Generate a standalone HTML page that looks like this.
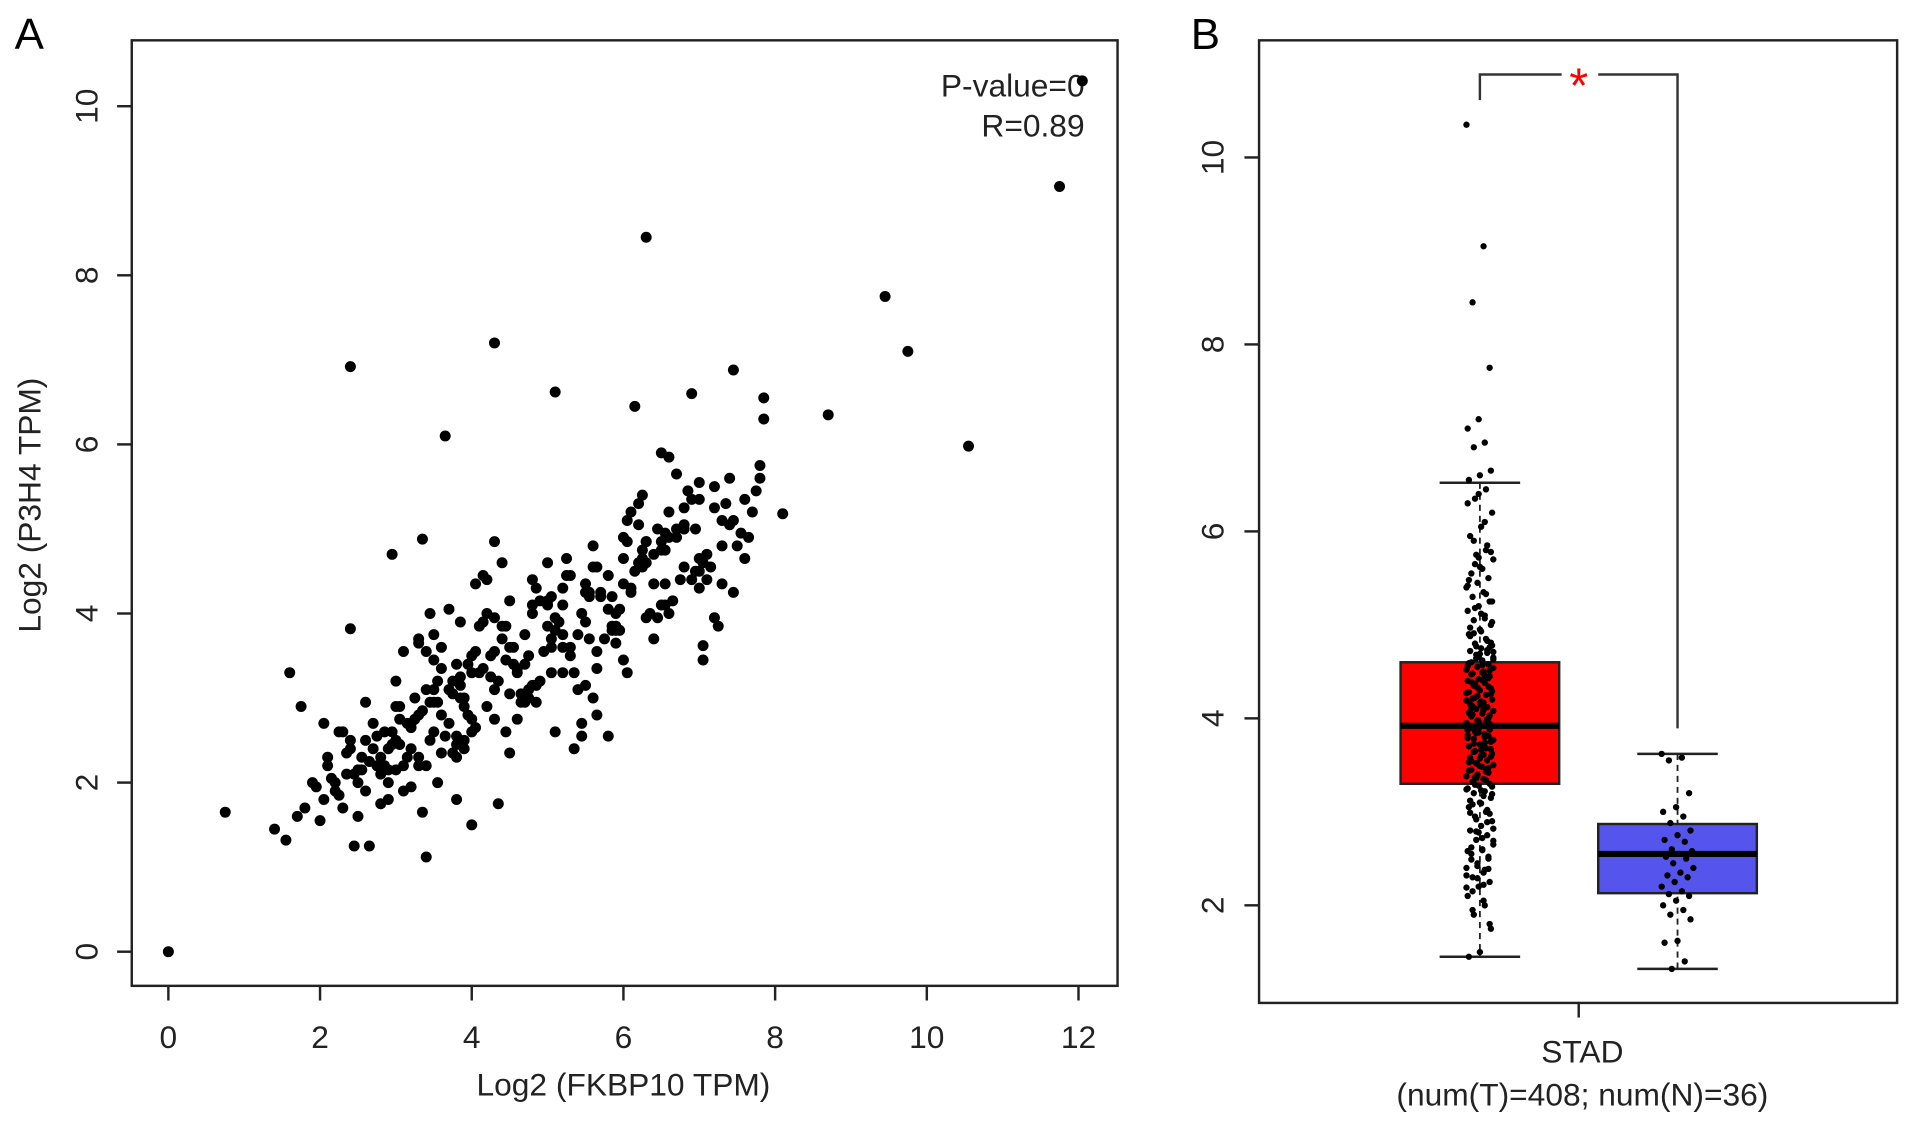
<!DOCTYPE html>
<html><head><meta charset="utf-8"><style>
html,body{margin:0;padding:0;background:#fff;}
svg{display:block;font-family:"Liberation Sans",Arial,sans-serif;}
</style></head><body>
<svg id="fig" width="1913" height="1125" viewBox="0 0 1568 922" xmlns="http://www.w3.org/2000/svg">
<g id="pa"></g>
<g id="pb"></g>
</svg>
<script>
// ---------- Panel A data ----------
const scatterX = [0,0.75,2.4,3.65,4.3,5.1,6.3,8.7,9.45,9.75,10.55,11.75,12.05,7.45,6.9,7.85,6.15,1.6,2.4,3.35,2.95,1.75,3.4,2.45,2.65,1.4,1.55,4.0,4.35,8.1,7.8,6.5,7.05,7.85,
1.7,1.8,1.9,2.0,2.05,2.1,2.2,2.25,2.3,2.35,2.5,2.55,2.6,2.7,2.75,2.8,2.85,2.9,3.0,3.05,3.1,3.15,3.2,3.25,3.3,3.35,3.45,3.5,3.55,3.6,3.7,3.75,3.8,3.85,3.9,3.95,
2.1,2.3,2.5,2.7,2.9,3.1,3.3,3.5,3.7,3.9,4.1,4.3,4.5,4.7,4.9,5.1,5.3,5.5,5.7,5.9,6.1,6.3,6.5,6.7,6.9,7.1,7.3,7.5,7.7,
1.95,2.15,2.35,2.55,2.75,2.95,3.15,3.35,3.55,3.75,3.95,4.15,4.35,4.55,4.75,4.95,5.15,5.35,5.55,5.75,5.95,6.15,6.35,6.55,6.75,6.95,7.15,7.35,7.55,7.75,
2.2,2.4,2.6,2.8,3.0,3.2,3.4,3.6,3.8,4.0,4.2,4.4,4.6,4.8,5.0,5.2,5.4,5.6,5.8,6.0,6.2,6.4,6.6,6.8,7.0,7.2,7.4,7.6,7.8,
2.05,2.45,2.85,3.25,3.65,4.05,4.45,4.85,5.25,5.65,6.05,6.45,6.85,7.25,7.65,
3.0,3.3,3.6,3.9,4.2,4.5,4.8,5.1,5.4,5.7,6.0,6.3,6.6,6.9,7.2,
2.6,2.9,3.2,3.5,3.8,4.1,4.4,4.7,5.0,5.3,5.6,5.9,6.2,6.5,6.8,7.1,7.4,
3.4,3.7,4.0,4.3,4.6,4.9,5.2,5.5,5.8,6.1,6.4,6.7,7.0,
4.05,4.25,4.45,4.65,4.85,5.05,5.25,5.45,5.65,5.85,6.05,6.25,6.45,
3.1,3.45,3.8,4.15,4.5,4.85,5.2,5.55,5.9,6.25,6.6,6.95,
3.85,4.15,4.45,4.75,5.05,5.35,5.65,5.95,6.25,6.55,
2.8,3.05,3.3,3.55,3.8,4.05,4.3,4.55,4.8,5.05,5.3,5.55,5.8,6.05,6.3,6.55,6.8,7.05,7.3,
2.25,2.65,3.05,3.45,3.85,4.25,4.65,5.05,5.45,5.85,6.25,6.65,7.05,7.45,
2.5,2.95,3.4,3.85,4.3,4.75,5.2,5.65,6.1,6.55,7.0,7.45,
3.2,3.6,4.0,4.4,4.8,5.2,5.6,6.0,6.4,6.8,7.2,7.6,
3.5,3.9,4.3,4.7,5.1,5.5,5.9,6.3,6.7,
2.4,2.9,3.3,3.75,4.2,4.6,5.0,5.45,5.85,6.2,6.6,7.0,7.3,
3.0,3.5,4.0,4.5,5.0,5.5,6.0,6.5,7.0];
const scatterY = [0,1.65,6.92,6.1,7.2,6.62,8.45,6.35,7.75,7.1,5.98,9.05,10.3,6.88,6.6,6.55,6.45,3.3,3.82,4.88,4.7,2.9,1.12,1.25,1.25,1.45,1.32,1.5,1.75,5.18,5.75,5.9,3.62,6.3,
1.6,1.7,2.0,1.55,1.8,2.2,1.9,2.6,1.7,2.1,1.6,2.3,1.9,2.4,2.2,1.75,2.6,2.0,2.5,2.9,1.9,2.7,2.4,3.0,2.3,1.65,2.5,3.1,2.0,3.6,2.7,3.2,1.8,3.9,2.5,3.4,
2.3,2.6,2.0,2.7,2.4,2.2,2.8,2.6,3.1,3.0,3.3,3.1,3.6,3.4,3.2,3.8,3.5,3.9,4.2,3.8,4.3,4.6,4.1,4.9,4.4,4.7,5.1,4.8,5.2,
1.95,2.05,2.35,2.15,2.55,2.6,2.3,2.85,2.95,3.05,2.8,3.35,3.2,3.6,3.0,3.55,3.9,3.3,4.2,3.7,4.05,4.5,4.0,4.75,4.4,5.0,4.55,5.3,4.95,5.45,
2.0,2.4,2.5,2.3,2.9,2.65,3.1,2.8,3.4,3.3,2.9,3.7,3.35,4.1,3.85,4.3,3.75,4.55,4.05,4.9,4.6,4.35,5.2,5.0,4.65,5.5,5.05,5.35,5.6,
2.7,2.1,2.2,2.75,2.55,3.55,3.45,3.15,4.45,2.8,5.1,3.95,5.45,3.85,4.9,
3.2,3.7,3.35,2.9,4.4,3.05,4.0,2.6,3.1,4.25,3.45,4.85,4.0,5.35,3.95,
2.95,2.15,2.7,3.75,2.3,3.85,4.6,2.95,4.6,3.6,4.8,4.0,5.05,4.75,5.05,4.4,5.6,
3.55,4.05,2.75,3.95,3.3,4.15,3.6,4.35,2.55,5.2,4.7,5.65,4.3,
4.35,3.25,3.85,2.95,4.3,3.3,4.65,2.55,4.55,3.85,4.85,5.4,5.0,
3.55,4.0,2.55,4.45,2.35,2.95,3.3,4.25,3.65,4.75,5.85,4.5,
3.15,3.9,2.6,3.1,4.2,2.4,3.55,3.8,4.55,4.35,
2.1,2.75,3.65,3.2,2.45,2.65,4.85,3.4,4.4,3.7,4.45,3.7,4.45,3.3,3.95,4.95,5.25,3.45,4.8,
1.85,2.25,2.45,2.95,3.25,3.5,3.05,3.6,4.0,4.2,4.65,4.15,4.6,5.1,
2.15,2.45,2.2,3.0,2.75,3.5,3.75,3.35,4.25,4.1,4.5,4.25,
1.95,2.35,2.6,3.85,3.15,4.1,3.0,4.35,3.7,4.55,5.25,4.65,
3.45,2.4,3.55,3.75,3.95,3.15,3.85,4.85,5.0,
2.5,1.8,2.2,2.35,4.0,2.75,4.1,2.7,3.8,5.3,4.9,5.55,4.35,
2.15,2.95,3.5,4.15,4.15,4.25,4.65,4.85,5.35];
const xTicksA = [0,2,4,6,8,10,12];
const yTicksA = [0,2,4,6,8,10];

// ---------- Panel B data ----------
const boxGroups = ["T","N"];
const boxColors = ["#ff0000","#5555ee"];
const boxQ1 = [3.3,2.13];
const boxMed = [3.92,2.55];
const boxQ3 = [4.6,2.87];
const whiskLo = [1.45,1.32];
const whiskHi = [6.52,3.62];
const yTicksB = [2,4,6,8,10];
const tumorVals = [10.35,9.05,8.45,7.75,7.2,7.1,6.95,6.9,6.65,6.6,6.55,6.45,6.35,6.2,6.05,5.95,5.85,5.75,5.7,5.6,5.55,5.5,5.45,5.4,5.35,5.3,5.25,5.2,5.15,5.1,5.05,5.0,4.95,4.9,4.85,4.8,4.78,4.75,4.72,4.7,4.68,4.65,4.62,4.6,4.58,4.55,4.52,4.5,4.48,4.45,4.42,4.4,4.38,4.35,4.32,4.3,4.28,4.25,4.22,4.2,4.18,4.15,4.12,4.1,4.08,4.05,4.02,4.0,3.98,3.95,3.92,3.9,3.88,3.85,3.82,3.8,3.78,3.75,3.72,3.7,3.68,3.65,3.62,3.6,3.58,3.55,3.52,3.5,3.48,3.45,3.42,3.4,3.38,3.35,3.32,3.3,3.28,3.25,3.22,3.2,3.15,3.1,3.05,3.0,2.95,2.9,2.85,2.8,2.75,2.7,2.65,2.6,2.55,2.5,2.45,2.4,2.35,2.3,2.25,2.2,2.1,2.0,1.9,1.75,1.5,1.45,
5.8,5.65,5.25,5.12,4.97,4.83,4.77,4.63,4.57,4.47,4.43,4.33,4.27,4.17,4.13,4.03,3.97,3.87,3.83,3.73,3.67,3.57,3.53,3.43,3.37,3.27,3.23,3.12,3.02,2.92,2.82,2.72,2.62,2.52,2.42,2.32,2.22,2.15,
4.76,4.66,4.56,4.46,4.36,4.26,4.16,4.06,3.96,3.86,3.76,3.66,3.56,3.46,3.36,4.71,4.41,4.11,3.81,3.51,3.91,3.61,4.21,4.51,
6.4,6.3,6.1,5.9,5.78,5.62,5.48,5.33,5.18,5.03,4.93,4.88,4.73,4.64,4.54,4.49,4.39,4.34,4.24,4.19,4.09,4.04,3.94,3.89,3.79,3.74,3.64,3.59,3.49,3.44,3.34,3.29,3.19,3.09,2.99,2.89,2.79,2.69,2.59,2.49,2.39,2.29,2.19,2.05,1.95,1.8,
5.72,5.42,5.07,4.91,4.81,4.69,4.59,4.44,4.37,4.29,4.14,4.07,3.99,3.84,3.77,3.69,3.54,3.47,3.39,3.24,3.17,3.08,2.98,2.78,2.58,2.38];
const normalVals = [3.62,3.58,3.55,3.2,3.05,3.0,2.95,2.88,2.8,2.75,2.7,2.68,2.6,2.58,2.55,2.52,2.5,2.45,2.4,2.35,2.32,2.3,2.25,2.2,2.15,2.12,2.1,2.05,2.0,1.95,1.9,1.85,1.62,1.6,1.4,1.32];

const NS="http://www.w3.org/2000/svg";
function mk(parent,tag,attrs,text){const e=document.createElementNS(NS,tag);for(const k in attrs)e.setAttribute(k,attrs[k]);if(text!==undefined)e.textContent=text;parent.appendChild(e);return e;}

// ---- Panel A ----
const pa=document.getElementById('pa');
const ax=v=>138+v*(884-138)/12;
const ay=v=>780-v*(780-87)/10;
let t=mk(pa,'text',{x:12,y:40,'font-size':36},'A');


let r=mk(pa,'rect',{x:108,y:33,width:808,height:775,fill:'none',stroke:'#222','stroke-width':2});


xTicksA.forEach(v=>{
  const l=mk(pa,'line',{x1:ax(v),x2:ax(v),y1:808,y2:820,stroke:'#222','stroke-width':2});
  
  
  const tx=mk(pa,'text',{x:ax(v),y:859,'font-size':26,'text-anchor':'middle',fill:'#222'},String(v));
  
  
});
yTicksA.forEach(v=>{
  const l=mk(pa,'line',{x1:96,x2:108,y1:ay(v),y2:ay(v),stroke:'#222','stroke-width':2});
  
  
  const tx=mk(pa,'text',{x:0,y:0,'font-size':26,'text-anchor':'middle',fill:'#222',transform:`translate(80,${ay(v)}) rotate(-90)`},String(v));
  
  
});
t=mk(pa,'text',{x:511,y:898,'font-size':26,'text-anchor':'middle',fill:'#222'},'Log2 (FKBP10 TPM)');


t=mk(pa,'text',{x:0,y:0,'font-size':26,'text-anchor':'middle',fill:'#222',transform:'translate(33,414) rotate(-90)'},'Log2 (P3H4 TPM)');


t=mk(pa,'text',{x:889,y:79,'font-size':26,'text-anchor':'end',fill:'#222'},'P-value=0');


t=mk(pa,'text',{x:889,y:112,'font-size':26,'text-anchor':'end',fill:'#222'},'R=0.89');


scatterX.forEach((xv,i)=>{
  const c=mk(pa,'circle',{cx:ax(xv),cy:ay(scatterY[i]),r:4.5,fill:'#000'});
  
  
});

// ---- Panel B ----
const pb=document.getElementById('pb');
const by=v=>742-(v-2)*(742-129)/8;
const centers=[1213,1375];
t=mk(pb,'text',{x:976,y:40,'font-size':36},'B');


r=mk(pb,'rect',{x:1032,y:33,width:523,height:789,fill:'none',stroke:'#222','stroke-width':2});


yTicksB.forEach(v=>{
  const l=mk(pb,'line',{x1:1020,x2:1032,y1:by(v),y2:by(v),stroke:'#222','stroke-width':2});
  
  
  const tx=mk(pb,'text',{x:0,y:0,'font-size':26,'text-anchor':'middle',fill:'#222',transform:`translate(1003,${by(v)}) rotate(-90)`},String(v));
  
  
});
let l0=mk(pb,'line',{x1:1294,x2:1294,y1:822,y2:834,stroke:'#222','stroke-width':2});


t=mk(pb,'text',{x:1297,y:871,'font-size':26,'text-anchor':'middle',fill:'#222'},'STAD');


t=mk(pb,'text',{x:1297,y:906,'font-size':26,'text-anchor':'middle',fill:'#222'},'(num(T)=408; num(N)=36)');


boxGroups.forEach((g,i)=>{
  const cx=centers[i];
  const w1=mk(pb,'line',{x1:cx,x2:cx,y1:by(whiskHi[i]),y2:by(whiskLo[i]),stroke:'#222','stroke-width':1.5,'stroke-dasharray':'5,4'});
  
  
  [whiskHi[i],whiskLo[i]].forEach(v=>{
    const c=mk(pb,'line',{x1:cx-33,x2:cx+33,y1:by(v),y2:by(v),stroke:'#222','stroke-width':2});
    
    
  });
  const b=mk(pb,'rect',{x:cx-65,y:by(boxQ3[i]),width:130,height:by(boxQ1[i])-by(boxQ3[i]),fill:boxColors[i],stroke:'#222','stroke-width':2});
  
  
  const m=mk(pb,'line',{x1:cx-65,x2:cx+65,y1:by(boxMed[i]),y2:by(boxMed[i]),stroke:'#000','stroke-width':5});
  
  
});
function jit(i,span){return ((i*37)%23-11)/11*span;}
tumorVals.forEach((v,i)=>{
  const c=mk(pb,'circle',{cx:centers[0]+jit(i,11),cy:by(v),r:2.6,fill:'#000'});
  
  
});
normalVals.forEach((v,i)=>{
  const c=mk(pb,'circle',{cx:centers[1]+jit(i,13),cy:by(v),r:2.6,fill:'#000'});
  
  
});
const br=mk(pb,'path',{d:'M1213,82 L1213,61 L1280,61 M1310,61 L1375,61 L1375,597',fill:'none',stroke:'#333','stroke-width':2});


t=mk(pb,'text',{x:1294,y:84,'font-size':40,'text-anchor':'middle',fill:'#ff0000'},'*');


</script>
</body></html>
